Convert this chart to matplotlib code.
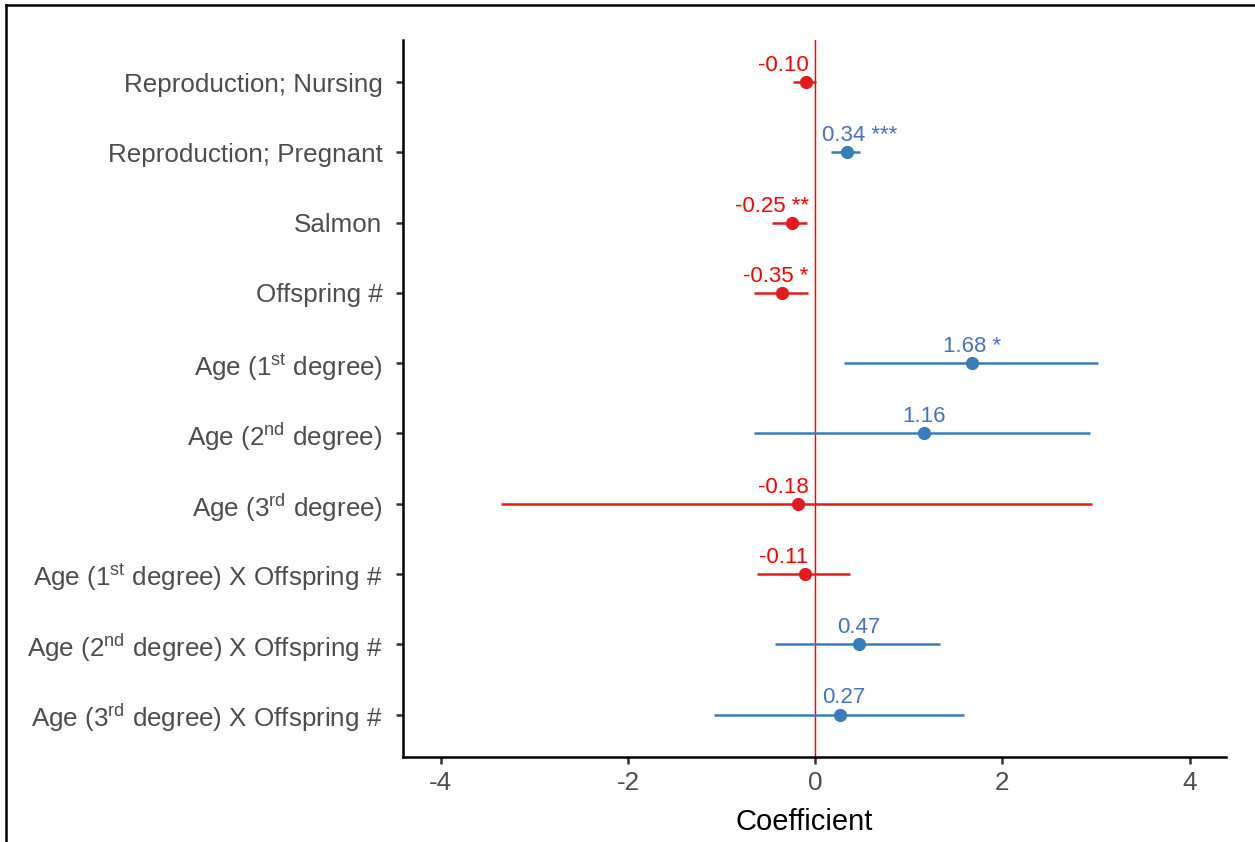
import numpy as np
import matplotlib
matplotlib.use("Agg")
import matplotlib.pyplot as plt
from matplotlib.lines import Line2D

plt.rcParams['font.family'] = ['Liberation Sans', 'DejaVu Sans']
plt.rcParams['mathtext.fontset'] = 'custom'
plt.rcParams['mathtext.rm'] = 'Liberation Sans'

# model terms, top to bottom
terms = ["Reproduction; Nursing",
         "Reproduction; Pregnant",
         "Salmon",
         "Offspring #",
         "Age (1$^{\\mathrm{st}}$ degree)",
         "Age (2$^{\\mathrm{nd}}$ degree)",
         "Age (3$^{\\mathrm{rd}}$ degree)",
         "Age (1$^{\\mathrm{st}}$ degree) X Offspring #",
         "Age (2$^{\\mathrm{nd}}$ degree) X Offspring #",
         "Age (3$^{\\mathrm{rd}}$ degree) X Offspring #"]
coef = [-0.10, 0.34, -0.25, -0.35, 1.68, 1.16, -0.18, -0.11, 0.47, 0.27]
ci_low = [-0.24, 0.17, -0.46, -0.65, 0.31, -0.65, -3.36, -0.62, -0.43, -1.08]
ci_high = [0.01, 0.48, -0.09, -0.08, 3.02, 2.94, 2.96, 0.37, 1.33, 1.59]
stars = ["", "***", "**", "*", "*", "", "", "", "", ""]

neg_col, pos_col = "#E41A1C", "#377EB8"
neg_txt, pos_txt = "#FF0000", "#4472C4"

fig = plt.figure(figsize=(12.55, 8.42), dpi=100)
ax = fig.add_axes([0.3214, 0.1013, 0.6555, 0.8512])

n = len(terms)
ypos = np.arange(n, 0, -1)

ax.axvline(0, color="#FF0000", lw=1.0, zorder=1)

labels = []
for i in range(n):
    c = neg_col if coef[i] < 0 else pos_col
    ax.plot([ci_low[i], ci_high[i]], [ypos[i], ypos[i]], color=c, lw=1.8,
            solid_capstyle="butt", zorder=2)
    ax.plot(coef[i], ypos[i], "o", color=c, ms=8.5, zorder=3)
    s = "%.2f" % coef[i]
    if stars[i]:
        s += " " + stars[i]
    t = ax.annotate(s, (coef[i], ypos[i]), xytext=(0, 8), textcoords="offset points",
                    ha="center", va="baseline", fontsize=16,
                    color=neg_txt if coef[i] < 0 else pos_txt, zorder=4)
    labels.append(t)

ax.set_xlim(-4.40, 4.39)
ax.set_ylim(0.4, n + 0.6)
ax.set_xticks([-4, -2, 0, 2, 4])
ax.set_xticklabels(["-4", "-2", "0", "2", "4"])
ax.set_yticks(ypos)
ax.set_yticklabels(terms)

for side in ["top", "right"]:
    ax.spines[side].set_visible(False)
for side in ["left", "bottom"]:
    ax.spines[side].set_linewidth(1.8)
ax.tick_params(axis="both", labelsize=18.7, labelcolor="#4D4D4D", color="#333333",
               width=1.8, length=5)
ax.tick_params(axis="y", pad=10)
ax.tick_params(axis="x", pad=5)
ax.set_xlabel("Coefficient", fontsize=21, color="black")
ax.xaxis.set_label_coords(0.487, -0.072)

# keep value labels off the zero line
gap = 0.07
fig.canvas.draw()
r = fig.canvas.get_renderer()
inv = ax.transData.inverted()
for i, t in enumerate(labels):
    bb = t.get_window_extent(r)
    x0 = inv.transform((bb.x0, bb.y0))[0]
    x1 = inv.transform((bb.x1, bb.y0))[0]
    half = (x1 - x0) / 2
    if coef[i] < 0 and x1 > -gap:
        t.xy = (-gap - half, ypos[i])
    elif coef[i] > 0 and x0 < gap:
        t.xy = (gap + half, ypos[i])

# screenshot frame on left and top
fig.add_artist(Line2D([6 / 1255, 6 / 1255], [0, 1 - 5 / 842], transform=fig.transFigure,
                      color="black", lw=1.8))
fig.add_artist(Line2D([6 / 1255, 1], [1 - 5 / 842, 1 - 5 / 842], transform=fig.transFigure,
                      color="black", lw=1.8))

fig.savefig("out.png", dpi=100)
